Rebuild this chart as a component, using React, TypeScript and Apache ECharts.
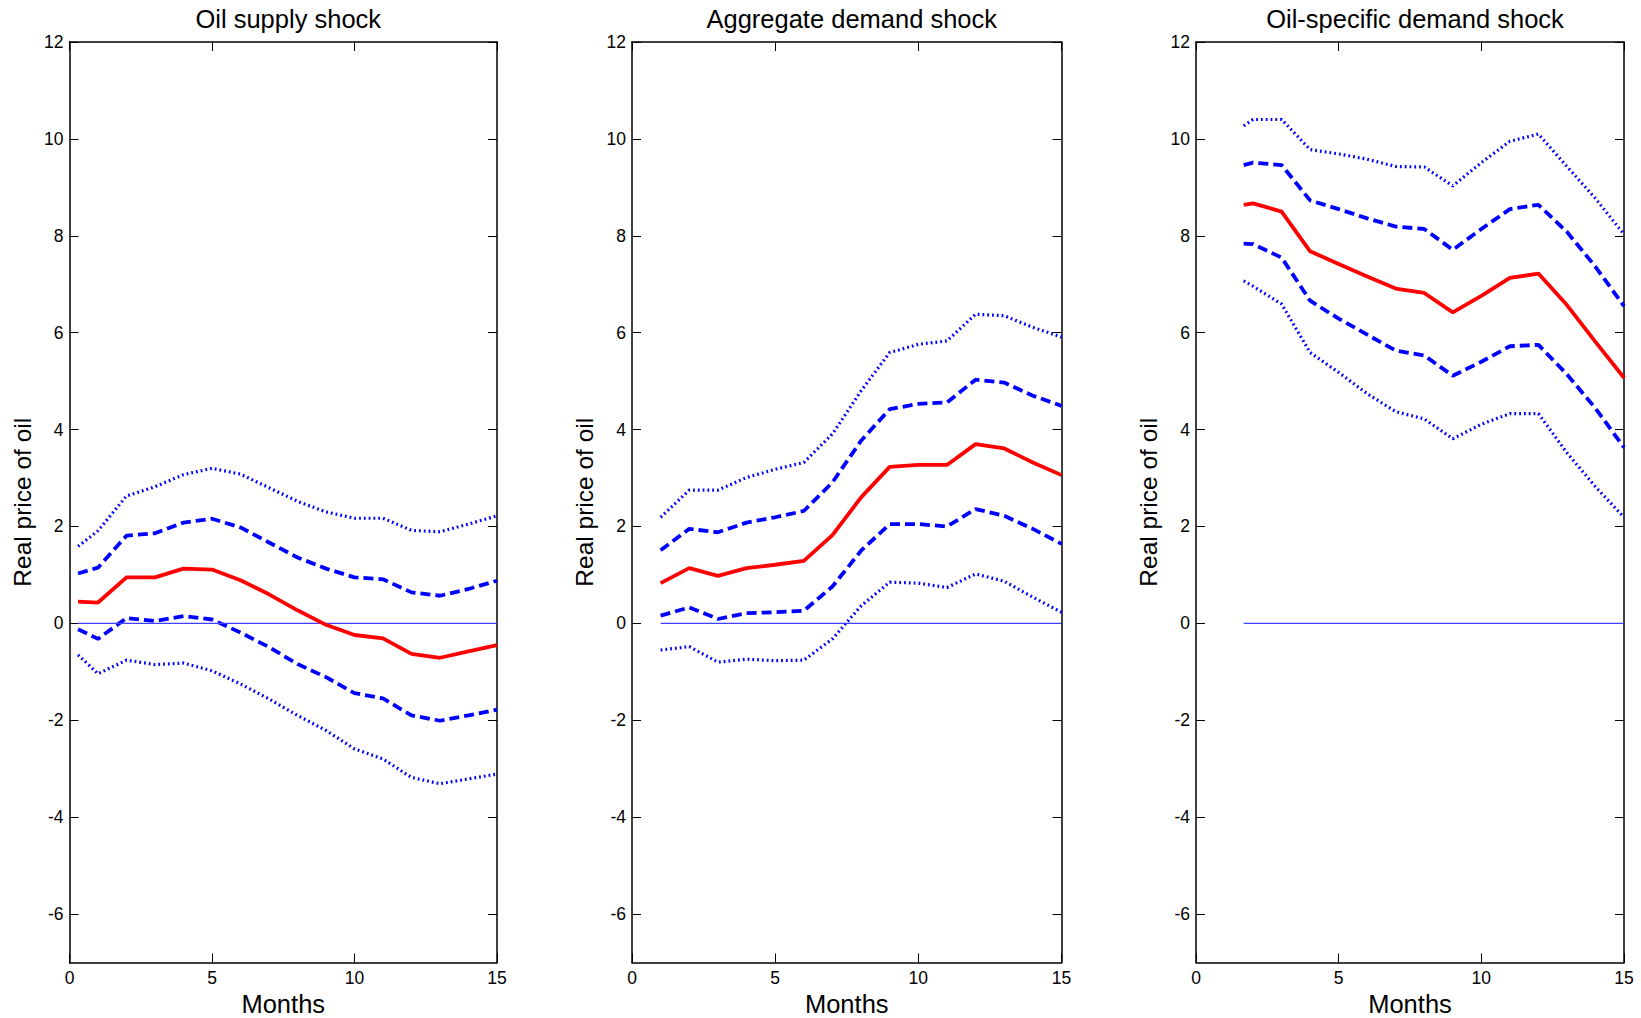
import React, { useEffect, useRef } from "react";
import * as echarts from "echarts";

// ---- Data ----
const titles = ["Oil supply shock", "Aggregate demand shock", "Oil-specific demand shock"];
const xLabel = "Months";
const yLabel = "Real price of oil";
const yTicks = [-6, -4, -2, 0, 2, 4, 6, 8, 10, 12];

// Panel 1: Oil supply shock
const months1 = [0.3, 1, 2, 3, 4, 5, 6, 7, 8, 9, 10, 11, 12, 13, 14, 15];
const resp1 = [0.45, 0.43, 0.95, 0.95, 1.13, 1.11, 0.89, 0.6, 0.27, -0.03, -0.24, -0.31, -0.63, -0.71, -0.58, -0.45];
const dashUp1 = [1.03, 1.15, 1.81, 1.86, 2.08, 2.16, 1.98, 1.67, 1.36, 1.13, 0.95, 0.91, 0.64, 0.57, 0.71, 0.88];
const dashLo1 = [-0.12, -0.32, 0.11, 0.05, 0.15, 0.08, -0.19, -0.49, -0.84, -1.11, -1.44, -1.55, -1.9, -2.01, -1.9, -1.78];
const dotUp1 = [1.59, 1.91, 2.63, 2.82, 3.07, 3.2, 3.08, 2.8, 2.52, 2.3, 2.17, 2.17, 1.92, 1.89, 2.05, 2.22];
const dotLo1 = [-0.65, -1.04, -0.76, -0.85, -0.82, -0.98, -1.25, -1.56, -1.9, -2.21, -2.59, -2.8, -3.18, -3.31, -3.21, -3.11];

// Panel 2: Aggregate demand shock
const months2 = [1, 2, 3, 4, 5, 6, 7, 8, 9, 10, 11, 12, 13, 14, 15];
const resp2 = [0.83, 1.14, 0.98, 1.14, 1.21, 1.29, 1.82, 2.6, 3.23, 3.27, 3.27, 3.7, 3.61, 3.32, 3.06];
const dashUp2 = [1.51, 1.95, 1.88, 2.08, 2.19, 2.32, 2.91, 3.77, 4.42, 4.53, 4.56, 5.03, 4.97, 4.7, 4.49];
const dashLo2 = [0.16, 0.33, 0.09, 0.21, 0.23, 0.26, 0.76, 1.5, 2.05, 2.05, 2.0, 2.36, 2.22, 1.95, 1.64];
const dotUp2 = [2.19, 2.75, 2.75, 3.01, 3.18, 3.32, 3.91, 4.8, 5.59, 5.76, 5.83, 6.38, 6.35, 6.11, 5.91];
const dotLo2 = [-0.55, -0.48, -0.8, -0.74, -0.77, -0.76, -0.32, 0.36, 0.85, 0.83, 0.74, 1.02, 0.87, 0.54, 0.23];

// Panel 3: Oil-specific demand shock
const months3 = [1.67, 2, 3, 4, 5, 6, 7, 8, 9, 10, 11, 12, 13, 14, 15];
const resp3 = [8.64, 8.67, 8.5, 7.68, 7.42, 7.16, 6.91, 6.82, 6.42, 6.76, 7.13, 7.22, 6.57, 5.81, 5.07];
const dashUp3 = [9.46, 9.51, 9.46, 8.73, 8.55, 8.36, 8.19, 8.14, 7.71, 8.14, 8.55, 8.64, 8.08, 7.36, 6.55];
const dashLo3 = [7.84, 7.83, 7.55, 6.66, 6.29, 5.96, 5.63, 5.53, 5.11, 5.4, 5.72, 5.75, 5.14, 4.44, 3.63];
const dotUp3 = [10.27, 10.4, 10.4, 9.78, 9.69, 9.58, 9.43, 9.42, 9.03, 9.51, 9.95, 10.1, 9.43, 8.77, 8.03];
const dotLo3 = [7.07, 6.96, 6.59, 5.59, 5.18, 4.74, 4.37, 4.22, 3.81, 4.11, 4.33, 4.33, 3.52, 2.82, 2.19];

const panels = [
  { title: titles[0], xs: months1, resp: resp1, dashUp: dashUp1, dashLo: dashLo1, dotUp: dotUp1, dotLo: dotLo1 },
  { title: titles[1], xs: months2, resp: resp2, dashUp: dashUp2, dashLo: dashLo2, dotUp: dotUp2, dotLo: dotLo2 },
  { title: titles[2], xs: months3, resp: resp3, dashUp: dashUp3, dashLo: dashLo3, dotUp: dotUp3, dotLo: dotLo3 },
];

// ---- Layout / style ----
const FONT = "'Liberation Sans', Arial, Helvetica, sans-serif";
const gridBoxes = [
  { left: 69.5, width: 427.5 },
  { left: 632, width: 429.5 },
  { left: 1196, width: 428 },
];
const GRID_TOP = 42;
const GRID_HEIGHT = 920.5;

function buildOption() {
  const axisLineStyle = { color: "#000", width: 1.5 };
  const tickStyle = { color: "#000", width: 1 };

  const grid = gridBoxes.map((g) => ({
    left: g.left,
    width: g.width,
    top: GRID_TOP,
    height: GRID_HEIGHT,
    containLabel: false,
    outerBoundsMode: "none",
  }));

  const xAxis: any[] = [];
  const yAxis: any[] = [];
  gridBoxes.forEach((_, i) => {
    xAxis.push({
      gridIndex: i,
      type: "value",
      min: 0,
      max: 15,
      interval: 5,
      position: "bottom",
      axisLine: { show: true, onZero: false, lineStyle: axisLineStyle },
      axisTick: { show: true, inside: true, length: 9, lineStyle: tickStyle },
      axisLabel: { show: true, margin: 6, fontSize: 17.5, color: "#000", fontFamily: FONT, showMinLabel: true, showMaxLabel: true },
      splitLine: { show: false },
      name: xLabel,
      nameLocation: "middle",
      nameGap: 24,
      nameTextStyle: { fontSize: 25.5, color: "#000", fontFamily: FONT },
    });
    xAxis.push({
      gridIndex: i,
      type: "value",
      min: 0,
      max: 15,
      interval: 5,
      position: "top",
      axisLine: { show: true, onZero: false, lineStyle: axisLineStyle },
      axisTick: { show: true, inside: true, length: 9, lineStyle: tickStyle },
      axisLabel: { show: false },
      splitLine: { show: false },
    });
    yAxis.push({
      gridIndex: i,
      type: "value",
      min: -7,
      max: 12,
      position: "left",
      axisLine: { show: true, onZero: false, lineStyle: axisLineStyle },
      axisTick: { show: true, inside: true, length: 9, lineStyle: tickStyle, customValues: yTicks },
      axisLabel: { show: true, margin: 6, fontSize: 17.5, color: "#000", fontFamily: FONT, customValues: yTicks },
      splitLine: { show: false },
      name: yLabel,
      nameLocation: "middle",
      nameGap: 35,
      nameTextStyle: { fontSize: 24.5, color: "#000", fontFamily: FONT },
    });
    yAxis.push({
      gridIndex: i,
      type: "value",
      min: -7,
      max: 12,
      position: "right",
      axisLine: { show: true, onZero: false, lineStyle: axisLineStyle },
      axisTick: { show: true, inside: true, length: 9, lineStyle: tickStyle, customValues: yTicks },
      axisLabel: { show: false },
      splitLine: { show: false },
    });
  });

  const series: any[] = [];
  panels.forEach((p, i) => {
    const pts = (arr: number[]) => p.xs.map((x, j) => [x, arr[j]]);
    const base = { type: "line", xAxisIndex: 2 * i, yAxisIndex: 2 * i, showSymbol: false, symbol: "none", silent: true };
    const dotted = { color: "#0000ff", width: 3.2, type: [1.8, 3], cap: "butt" };
    const dashed = { color: "#0000ff", width: 3.8, type: [10, 5], cap: "butt" };
    series.push({ ...base, name: "dotUp" + i, data: pts(p.dotUp), lineStyle: dotted });
    series.push({ ...base, name: "dotLo" + i, data: pts(p.dotLo), lineStyle: dotted });
    series.push({ ...base, name: "dashUp" + i, data: pts(p.dashUp), lineStyle: dashed });
    series.push({ ...base, name: "dashLo" + i, data: pts(p.dashLo), lineStyle: dashed });
    series.push({
      ...base,
      name: "zero" + i,
      data: [
        [p.xs[0], 0],
        [p.xs[p.xs.length - 1], 0],
      ],
      lineStyle: { color: "#4040ff", width: 1.2 },
    });
    series.push({ ...base, name: "resp" + i, data: pts(p.resp), lineStyle: { color: "#ff0000", width: 3.8 } });
  });

  const title = panels.map((p, i) => ({
    text: p.title,
    left: gridBoxes[i].left + gridBoxes[i].width / 2,
    top: 1,
    textAlign: "center",
    textStyle: { fontSize: 25.5, fontWeight: "normal", color: "#000", fontFamily: FONT },
  }));

  return {
    animation: false,
    backgroundColor: "#ffffff",
    title,
    grid,
    xAxis,
    yAxis,
    series,
  };
}

export default function App() {
  const ref = useRef<HTMLDivElement>(null);
  useEffect(() => {
    document.body.style.margin = "0";
    const chart = echarts.init(ref.current as HTMLDivElement, null, { renderer: "svg" });
    chart.setOption(buildOption() as any);
    return () => {
      chart.dispose();
    };
  }, []);
  return (
    <div
      ref={ref}
      style={{ position: "absolute", left: 0, top: 0, width: 1641, height: 1018, background: "#fff" }}
    />
  );
}
